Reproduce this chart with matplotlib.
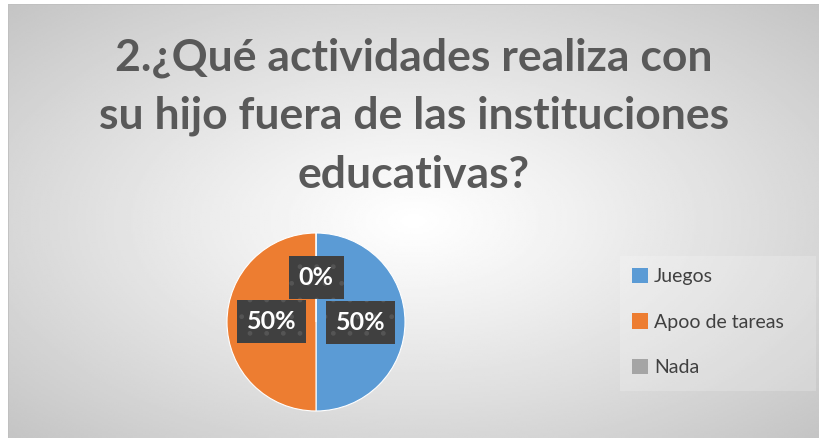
import numpy as np
import matplotlib
matplotlib.use("Agg")
import matplotlib.pyplot as plt
from matplotlib.patches import Rectangle, Patch

# Datos del gráfico
categorias = ['Juegos', 'Apoo de tareas', 'Nada']
valores = [50, 50, 0]
colores = ['#5B9BD5', '#ED7D31', '#A5A5A5']
titulo = '2.¿Qué actividades realiza con\nsu hijo fuera de las instituciones\neducativas?'

plt.rcParams['font.family'] = ['Lato', 'DejaVu Sans']

W, H = 819, 438
fig = plt.figure(figsize=(W / 100, H / 100), dpi=100)
fig.patch.set_facecolor('white')

# Fondo con degradado radial (blanco al centro, gris en los bordes)
x0, y0 = 8, 4
bg = fig.add_axes([x0 / W, 0, (W - x0) / W, (H - y0) / H])
bg.set_axis_off()
xx, yy = np.meshgrid(np.linspace(-1, 1, 400), np.linspace(-1, 1, 220))
r = np.sqrt(xx ** 2 + yy ** 2) / np.sqrt(2)
gris = 1.0 - (1.0 - 0.77) * np.clip(r, 0, 1) ** 1.1
bg.imshow(gris, cmap='gray', vmin=0, vmax=1, aspect='auto', extent=[0, 1, 0, 1])
bg.set_xlim(0, 1)
bg.set_ylim(0, 1)
bg.plot([0, 0, 1], [0, 1, 1], color='#bfbfbf', lw=1.2)

# Título
fig.text(414 / W, 1 - 116 / H, titulo, ha='center', va='center',
         fontsize=32, fontweight='bold', color='#595959', linespacing=1.55)

# Pastel
cx, cy, rad = 316, 322, 89
ax = fig.add_axes([(cx - rad) / W, (H - cy - rad) / H, 2 * rad / W, 2 * rad / H])
ax.set_facecolor('none')
wedges, textos, autotextos = ax.pie(valores, colors=colores, startangle=90, counterclock=False,
                                    autopct='%d%%', pctdistance=0.5,
                                    wedgeprops=dict(linewidth=0.8, edgecolor='white'))
for t in autotextos:
    t.set_color('white')
    t.set_fontsize(18)
    t.set_fontweight('bold')
    t.set_bbox(dict(boxstyle='square,pad=0.4', facecolor='#404040', edgecolor='#555555',
                    linewidth=0, hatch='.'))
ax.set_xlim(-1, 1)
ax.set_ylim(-1, 1)
ax.set_aspect('equal')

# Leyenda
leg_bg = fig.add_axes([620 / W, (H - 391) / H, (816 - 620) / W, (391 - 256) / H])
leg_bg.set_axis_off()
leg_bg.add_patch(Rectangle((0, 0), 1, 1, transform=leg_bg.transAxes,
                           facecolor='white', alpha=0.2, edgecolor='none'))
handles = [Patch(facecolor=c, edgecolor='none') for c in colores]
leg = fig.legend(handles, categorias, loc='center left',
                 bbox_to_anchor=(614 / W, 1 - 322 / H), frameon=False,
                 fontsize=14, handlelength=0.85, handleheight=0.85,
                 handletextpad=0.3, labelspacing=1.45)
for t in leg.get_texts():
    t.set_color('#404040')

fig.savefig('out.png', dpi=100)
